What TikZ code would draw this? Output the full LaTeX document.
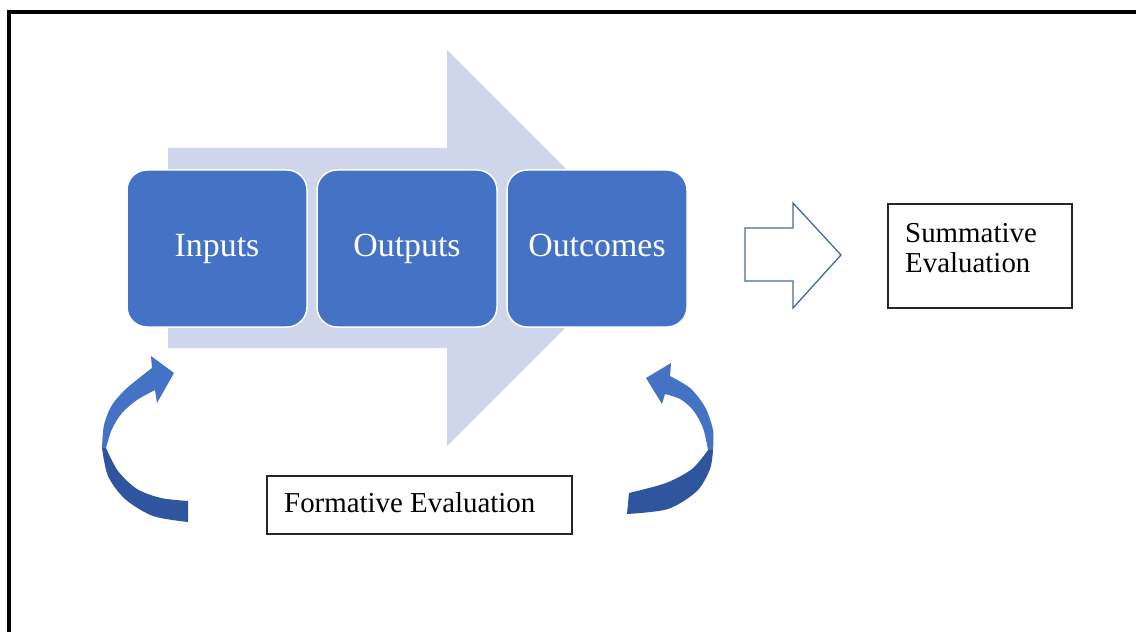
\documentclass[tikz,border=0pt]{standalone}
\usepackage{fontspec}
\setmainfont{Liberation Serif}
\definecolor{boxblue}{RGB}{68,114,196}
\definecolor{paleblue}{RGB}{207,213,234}
\definecolor{darkblue}{RGB}{47,85,158}
\definecolor{edgeblue}{RGB}{70,105,165}
\begin{document}
\begin{tikzpicture}[x=1bp,y=-1bp,
  stagebox/.style={rectangle, rounded corners=20bp, fill=boxblue, draw=white,
    line width=1.5bp, minimum width=180bp, minimum height=157bp, inner sep=0pt,
    text=white, font=\fontsize{34}{38}\selectfont, text height=23bp, text depth=6bp},
  evalbox/.style={rectangle, draw=black!85, line width=1.8bp, inner sep=0pt},
  evaltext/.style={inner sep=0pt, font=\fontsize{29}{31}\selectfont},
  lightpart/.style={fill=boxblue},
  darkpart/.style={fill=darkblue}]
\useasboundingbox (0,0) rectangle (1136,632);
% page frame (top and left edges)
\draw[line width=4bp] (9,632) -- (9,12.5) -- (1136,12.5);

% wide background arrow
\fill[paleblue] (168,148) -- (447,148) -- (447,50) -- (645,248)
  -- (447,446) -- (447,348) -- (168,348) -- cycle;

% stages
\node[stagebox] (inputs) at (217,248.5) {Inputs};
\node[stagebox] (outputs) at (407,248.5) {Outputs};
\node[stagebox] (outcomes) at (597,248.5) {Outcomes};

% hollow arrow towards summative evaluation
\draw[edgeblue, line width=1.3bp, line join=miter] (745,228) -- (793,228) -- (793,203)
  -- (841,255) -- (793,308) -- (793,281) -- (745,281) -- cycle;

% summative evaluation box
\node[evalbox, minimum width=184bp, minimum height=104bp] (summ) at (980,256) {};
\node[evaltext, anchor=base west, align=left] (summtext) at (905,273)
  {Summative\\Evaluation};

% formative evaluation box
\node[evalbox, minimum width=305bp, minimum height=58bp] (form) at (419.5,505) {};
\node[evaltext, anchor=base west] (formtext) at (284,512) {Formative Evaluation};

% left curved arrow
\fill[lightpart] plot[smooth] coordinates {(102,448) (104,425) (112,405) (127,388) (152,368)}
  -- (151,356) -- (174,373) -- (157,403)
  -- plot[smooth] coordinates {(155,390) (137,400) (122,413) (112,429) (106,448)} -- cycle;
\fill[darkpart] plot[smooth] coordinates {(102,448) (108,476) (125,499) (153,516) (188,522)}
  -- plot[smooth] coordinates {(188,501) (161,498) (137,489) (118,471) (106,448)} -- cycle;

% right curved arrow
\fill[lightpart] plot[smooth] coordinates {(713,450) (713,430) (705,407) (690,388) (670,376)}
  -- (671,363) -- (646,378) -- (662,404)
  -- plot[smooth] coordinates {(665,394) (680,399) (693,410) (703,428) (708,450)} -- cycle;
\fill[darkpart] plot[smooth] coordinates {(713,450) (710,469) (697,491) (668,509) (627,514)}
  -- plot[smooth] coordinates {(629,493) (666,483) (692,469) (708,450)} -- cycle;
\end{tikzpicture}
\end{document}
